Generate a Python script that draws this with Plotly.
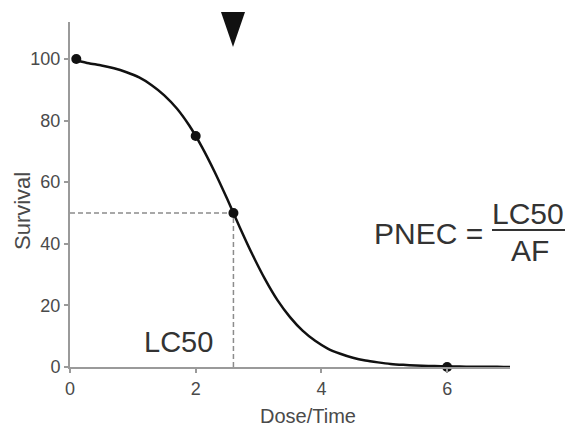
import plotly.graph_objects as go

# Curve values
curve_x = [0.1, 0.3, 0.5, 0.7, 0.9, 1.1, 1.3, 1.5, 1.7, 1.9, 2.1, 2.3, 2.5, 2.7, 2.9, 3.1, 3.3, 3.5,
           3.7, 3.9, 4.1, 4.3, 4.5, 4.7, 4.9, 5.1, 5.3, 5.5, 5.7, 5.9, 6.1, 6.3, 6.5, 6.7, 6.9, 7.0]
curve_y = [99.5, 98.6, 97.9, 97.0, 95.7, 94.0, 91.5, 88.2, 83.9, 78.3, 71.4, 63.4, 54.6, 45.4, 36.6, 28.6, 21.7, 16.2,
           11.8, 8.5, 6.0, 4.3, 3.0, 2.1, 1.5, 1.0, 0.7, 0.5, 0.34, 0.24, 0.17, 0.12, 0.08, 0.06, 0.04, 0.03]

# Observed points
point_x = [0.1, 2.0, 2.6, 6.0]
point_y = [100, 75, 50, 0]

lc50_x = 2.6
lc50_y = 50

x_ticks = [0, 2, 4, 6]
y_ticks = [0, 20, 40, 60, 80, 100]

FONT = "Liberation Sans, Arial, sans-serif"
TXT = "#333333"
LBL = "#4a4a4a"
AX = "#9a9a9a"

fig = go.Figure()

# dashed guide lines
fig.add_trace(go.Scatter(x=[0, lc50_x], y=[lc50_y, lc50_y], mode="lines",
                         line=dict(color="#8c8c8c", width=1.5, dash="5px,3px"),
                         hoverinfo="skip", showlegend=False))
fig.add_trace(go.Scatter(x=[lc50_x, lc50_x], y=[0, lc50_y], mode="lines",
                         line=dict(color="#8c8c8c", width=1.5, dash="5px,3px"),
                         hoverinfo="skip", showlegend=False))

# curve
fig.add_trace(go.Scatter(x=curve_x, y=curve_y, mode="lines",
                         line=dict(color="#111111", width=2.5, shape="spline", smoothing=0.6),
                         cliponaxis=False, showlegend=False))
# points
fig.add_trace(go.Scatter(x=point_x, y=point_y, mode="markers",
                         marker=dict(color="#111111", size=10),
                         cliponaxis=False, showlegend=False))

# page body has an 8px margin: work in reference pixels and shift by OFF
OFF = 8
W, H = 573 - OFF, 430 - OFF
L, T = 70 - OFF, 22 - OFF
R = W - (510 - OFF)
B = H - (367 - OFF)
pw, ph = W - L - R, H - T - B

def px(x):
    return (x - OFF - L) / pw

def py(y):
    return (H - B - (y - OFF)) / ph

fig.update_layout(
    width=W, height=H,
    margin=dict(l=L, r=R, t=T, b=B),
    plot_bgcolor="white", paper_bgcolor="white",
    font=dict(family=FONT, color=TXT),
    xaxis=dict(range=[0, 7], tickvals=x_ticks, showgrid=False, zeroline=False,
               showline=True, linecolor=AX, linewidth=2,
               ticks="outside", ticklen=4, tickwidth=1.5, tickcolor=AX,
               tickfont=dict(size=18, color=LBL, family=FONT)),
    yaxis=dict(range=[0, 112], tickvals=y_ticks, showgrid=False, zeroline=False,
               showline=True, linecolor=AX, linewidth=2,
               ticks="outside", ticklen=4, tickwidth=1.5, tickcolor=AX,
               tickfont=dict(size=18, color=LBL, family=FONT)),
    showlegend=False,
)

ann = [
    dict(text="Survival", x=px(23), y=py(211), textangle=-90, font=dict(size=22, color=LBL)),
    dict(text="Dose/Time", x=px(308), y=py(416), font=dict(size=20, color=LBL)),
    dict(text="LC50", x=px(178), y=py(342), font=dict(size=29, color=TXT)),
    dict(text="PNEC =", x=px(428), y=py(233), font=dict(size=30, color=TXT)),
    dict(text="LC50", x=px(528), y=py(213), font=dict(size=30, color=TXT)),
    dict(text="AF", x=px(530), y=py(250), font=dict(size=30, color=TXT)),
]
for a in ann:
    a.update(xref="paper", yref="paper", showarrow=False, xanchor="center", yanchor="middle")
    fig.add_annotation(**a)

# fraction bar
fig.add_shape(type="line", xref="paper", yref="paper",
              x0=px(492), x1=px(572), y0=py(230), y1=py(230),
              line=dict(color=TXT, width=2))
# triangle marker above LC50
fig.add_shape(type="path", xref="paper", yref="paper",
              path=f"M {px(221)},{py(12)} L {px(245)},{py(12)} L {px(233)},{py(47)} Z",
              fillcolor="#111111", line=dict(color="#111111", width=0))

fig.write_html("out.html")
